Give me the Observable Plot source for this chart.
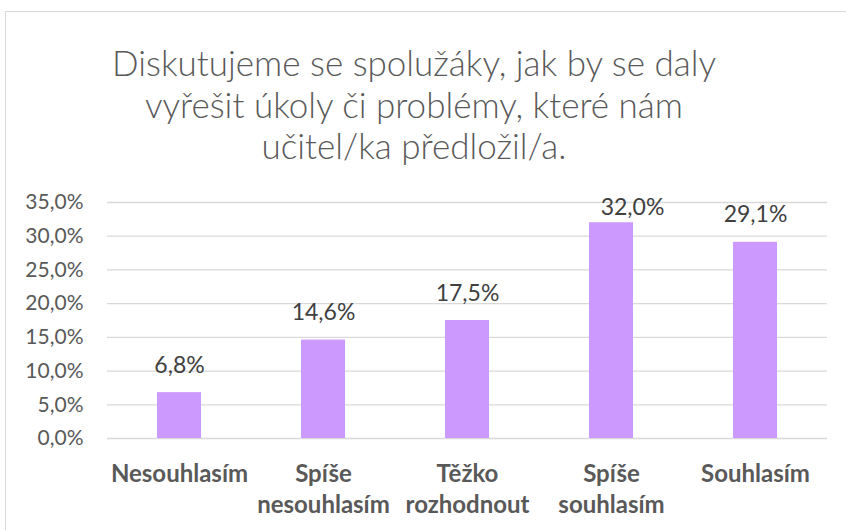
<!DOCTYPE html>
<html><head><meta charset="utf-8">
<script src="https://cdn.jsdelivr.net/npm/d3@7"></script>
<script src="https://cdn.jsdelivr.net/npm/@observablehq/plot@0.6"></script>
<style>
body{margin:0;background:#fff;width:846px;height:530px;overflow:hidden;position:relative;font-family:Lato,sans-serif;}
#frame{position:absolute;left:5px;top:11px;width:900px;height:600px;border:1px solid #d9d9d9;box-sizing:border-box;}
#title{position:absolute;left:0;top:42px;width:828px;text-align:center;font-size:35px;font-weight:300;line-height:41.5px;color:#595959;}
#chart{position:absolute;left:0;top:180px;}
</style></head><body>
<div id="frame"></div>
<div id="title">Diskutujeme se spolužáky, jak by se daly<br>vyřešit úkoly či problémy, které nám<br>učitel/ka předložil/a.</div>
<div id="chart"></div>
<script>
const categories = ["Nesouhlasím", "Spíše\nnesouhlasím", "Těžko\nrozhodnout", "Spíše\nsouhlasím", "Souhlasím"];
const values = [6.8, 14.6, 17.5, 32.0, 29.1];
const yTicks = [0, 5, 10, 15, 20, 25, 30, 35];

const fmt = v => v.toFixed(1).replace(".", ",") + "%";
const data = categories.map((c, i) => ({c, v: values[i]}));

const chart = Plot.plot({
  width: 846, height: 350,
  marginTop: 22, marginBottom: 92, marginLeft: 107, marginRight: 19,
  style: {fontFamily: "Lato, sans-serif", color: "#595959", background: "transparent"},
  x: {domain: categories, paddingInner: 0.694, paddingOuter: 0.347, label: null},
  y: {domain: [0, 35], label: null},
  marks: [
    Plot.gridY(yTicks, {stroke: "#d9d9d9", strokeOpacity: 1, strokeWidth: 1.3}),
    Plot.axisY(yTicks, {tickSize: 0, tickPadding: 24, tickFormat: fmt, fontSize: 21, fill: "#595959", label: null}),
    Plot.axisX({tickSize: 0, tickPadding: 21, fontSize: 24, fontWeight: "bold", lineHeight: 1.3, fill: "#595959", label: null}),
    Plot.barY(data, {x: "c", y: "v", fill: "#cc99ff"}),
    Plot.text(data.filter(d => d.v < 30), {x: "c", y: "v", text: d => fmt(d.v), dy: -20, lineAnchor: "bottom", fontSize: 23, fill: "#404040"}),
    Plot.text(data.filter(d => d.v >= 30), {x: "c", y: "v", text: d => fmt(d.v), dx: 21, dy: -8, lineAnchor: "bottom", fontSize: 23, fill: "#404040"})
  ]
});
document.getElementById("chart").appendChild(chart);
</script>
</body></html>
